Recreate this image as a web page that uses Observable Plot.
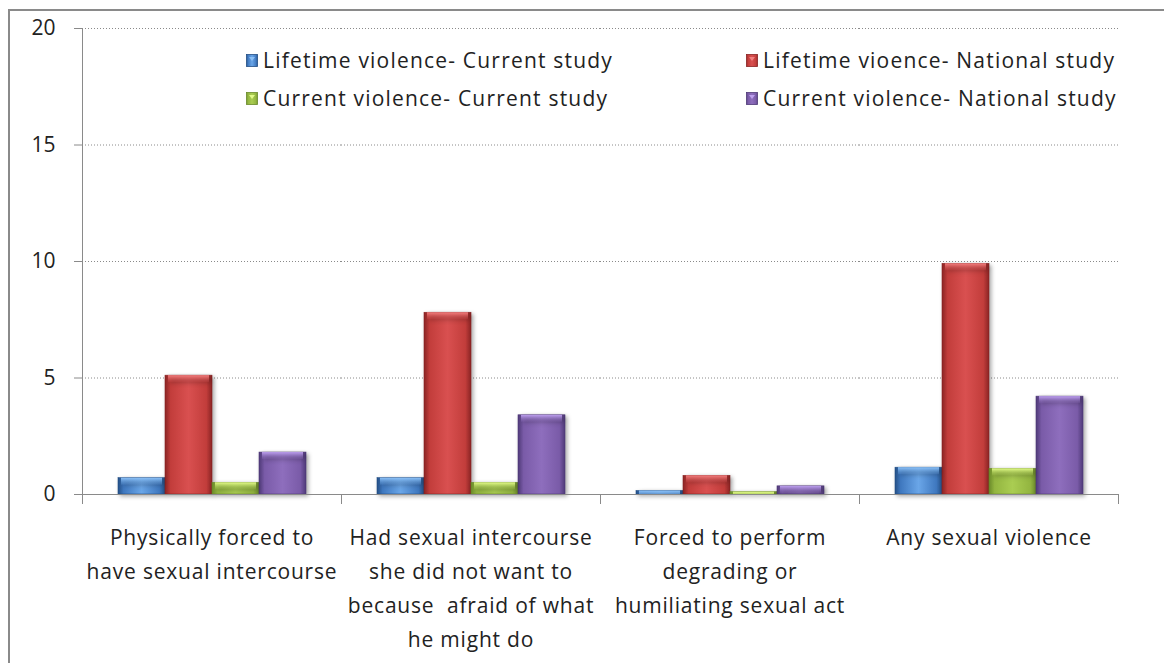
<!DOCTYPE html>
<html>
<head>
<meta charset="utf-8">
<script src="https://cdn.jsdelivr.net/npm/d3@7"></script>
<script src="https://cdn.jsdelivr.net/npm/@observablehq/plot@0.6"></script>
<style>
  body { margin: 0; background: #fff; font-family: "Open Sans", Lato, sans-serif; }
  #border { position: absolute; left: 8px; top: 9px; width: 1300px; height: 800px; border: 2px solid #8a8a8a; box-sizing: border-box; }
  #chart { position: absolute; left: 0; top: 0; }
  #legend { position: absolute; left: 246px; top: 41px; display: grid; grid-template-columns: 500px auto; grid-auto-rows: 38px; font-size: 21px; letter-spacing: 1.2px; color: #222; }
  #legend .item { display: flex; align-items: center; white-space: nowrap; }
  #legend .sw { width: 12px; height: 13px; margin-right: 5px; }
  g[aria-label="bar"] rect { filter: drop-shadow(2px 2px 2px rgba(0,0,0,0.35)); }
  g[aria-label="fx-axis tick label"] text { letter-spacing: 0.8px; }
</style>
</head>
<body>
<svg width="0" height="0" style="position:absolute">
  <defs id="defs"></defs>
</svg>
<div id="border"></div>
<div id="chart"></div>
<div id="legend"></div>
<script>
// ---- data ----
const categories = [
  "Physically forced to\nhave sexual intercourse",
  "Had sexual intercourse\nshe did not want to\nbecause  afraid of what\nhe might do",
  "Forced to perform\ndegrading or\nhumiliating sexual act",
  "Any sexual violence"
];
const series = [
  "Lifetime violence- Current study",
  "Lifetime vioence- National study",
  "Current violence- Current study",
  "Current violence- National study"
];
const lifetimeCurrent  = [0.7, 0.7, 0.15, 1.15];
const lifetimeNational = [5.1, 7.8, 0.8, 9.9];
const currentCurrent   = [0.5, 0.5, 0.1, 1.1];
const currentNational  = [1.8, 3.4, 0.35, 4.2];
const yTicks = [0, 5, 10, 15, 20];
const legendOrder = [0, 1, 2, 3]; // row-major: col1 then col2

// ---- styles ----
const palette = [
  {dark: "#244f85", main: "#3f78bf", light: "#6aa6e8", top: "#8cc0f5"},
  {dark: "#8a2424", main: "#c23d3b", light: "#d95050", top: "#f08080"},
  {dark: "#6a8a2a", main: "#93b540", light: "#aacd52", top: "#e2fa8a"},
  {dark: "#4f3a78", main: "#7a5ba8", light: "#8e6ebd", top: "#bda0ee"}
];
const defs = document.getElementById("defs");
let defsHtml = "";
palette.forEach((p, i) => {
  defsHtml += `<linearGradient id="gb${i}" x1="0" y1="0" x2="1" y2="0">
    <stop offset="0" stop-color="${p.dark}"/><stop offset="0.12" stop-color="${p.main}"/>
    <stop offset="0.5" stop-color="${p.light}"/><stop offset="0.88" stop-color="${p.main}"/>
    <stop offset="1" stop-color="${p.dark}"/></linearGradient>
    <linearGradient id="gt${i}" x1="0" y1="0" x2="0" y2="1">
    <stop offset="0" stop-color="${p.top}"/><stop offset="1" stop-color="${p.light}" stop-opacity="0.2"/></linearGradient>`;
});
defs.innerHTML = defsHtml;

const columns = [lifetimeCurrent, lifetimeNational, currentCurrent, currentNational];
const rows = [];
categories.forEach((c, ci) => {
  series.forEach((s, si) => rows.push({category: c, series: s, value: columns[si][ci], k: si}));
});

const font = "'Open Sans', Lato, sans-serif";
const chart = Plot.plot({
  width: 1164,
  height: 663,
  marginLeft: 81,
  marginRight: 45,
  marginTop: 28,
  marginBottom: 169,
  style: {fontFamily: font, fontSize: "21px", color: "#222", background: "transparent"},
  fx: {domain: categories, padding: 0, label: null},
  x: {domain: series, paddingInner: 0, paddingOuter: 0.74, axis: null},
  y: {domain: [0, 20], label: null},
  marks: [
    Plot.gridY([5, 10, 15, 20], {stroke: "#8a8a8a", strokeOpacity: 1, strokeDasharray: "1,2"}),
    Plot.axisY(yTicks, {tickSize: 8, tickPadding: 19, fontSize: 21, label: null, stroke: "#8a8a8a"}),
    Plot.frame({anchor: "left", facetAnchor: "left", stroke: "#8a8a8a", insetBottom: -9}),
    Plot.frame({anchor: "left", insetTop: 466, insetBottom: -9, stroke: "#8a8a8a"}),
    Plot.frame({anchor: "right", insetTop: 466, insetBottom: -9, stroke: "#8a8a8a"}),
    Plot.barY(rows, {fx: "category", x: "series", y: "value", fill: d => `url(#gb${d.k})`, stroke: d => palette[d.k].dark, strokeWidth: 0.6}),
    Plot.barY(rows, {fx: "category", x: "series", y1: "value", y2: "value", insetBottom: -7, insetLeft: 3, insetRight: 3, fill: d => `url(#gt${d.k})`, clip: "frame"}),
    Plot.ruleY([0], {stroke: "#8a8a8a"}),
    Plot.axisFx({anchor: "bottom", tickSize: 0, tickPadding: 26, fontSize: 21, lineHeight: 1.62, label: null})
  ]
});
document.getElementById("chart").appendChild(chart);

// ---- legend ----
const legend = document.getElementById("legend");
legendOrder.forEach(i => {
  const it = document.createElement("div");
  it.className = "item";
  it.innerHTML = `<svg class="sw" width="12" height="13"><rect x="0.5" y="0.5" width="11" height="12" fill="url(#gb${i})" stroke="${palette[i].dark}" stroke-width="0.8"/><path d="M3,3 L9,3 L6,7 Z" fill="${palette[i].top}"/></svg><span>${series[i]}</span>`;
  legend.appendChild(it);
});
</script>
</body>
</html>
